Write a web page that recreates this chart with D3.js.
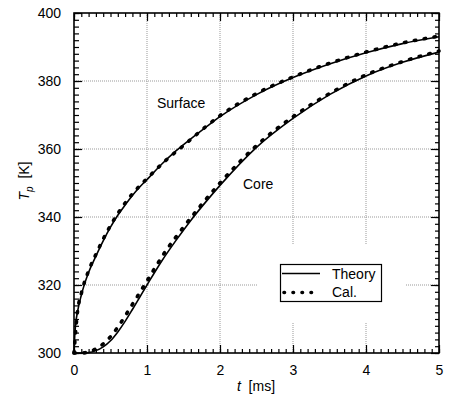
<!DOCTYPE html>
<html>
<head>
<meta charset="utf-8">
<script src="https://cdn.jsdelivr.net/npm/d3@7"></script>
<style>
  body { margin: 0; background: #fff; }
  svg text { font-family: "Liberation Sans", Arial, sans-serif; }
</style>
</head>
<body>
<div id="chart"></div>
<script>
// theory curves (time in ms, temperature in K)
const tTheory = [0, 0.01, 0.02, 0.05, 0.1, 0.15, 0.2, 0.3, 0.4, 0.5, 0.6, 0.7, 0.8, 0.9, 1.0, 1.2, 1.4, 1.6, 1.8, 2.0, 2.5, 3.0, 3.5, 4.0, 4.5, 5.0];
const surfaceTheory = [300, 305, 308, 312.3, 317, 320.7, 323.7, 328.5, 333, 337, 340.5, 343.5, 346.3, 348.8, 351, 355.5, 359.5, 363, 366.3, 369.5, 376, 381, 385, 388.3, 391, 393];
const coreTheory = [300, 300, 300, 300, 300, 300, 300.1, 300.7, 301.8, 303.6, 306.2, 309.3, 312.8, 316.4, 320, 327, 333.2, 339, 344.3, 349.3, 360.5, 369, 376, 381.5, 385.5, 388.5];

// calculated results
const tCal = [0, 0.05, 0.1, 0.2, 0.3, 0.4, 0.5, 0.6, 0.8, 1.0, 1.25, 1.5, 2.0, 2.5, 3.0, 3.5, 4.0, 4.5, 5.0];
const surfaceCal = [300, 312.5, 317.5, 324.2, 329, 333.5, 337.5, 341, 346.8, 351.3, 356.5, 361, 369.8, 376.3, 381.2, 385.2, 388.5, 391.2, 393.2];
const coreCal = [300, 300, 300, 300.3, 301.2, 302.7, 304.8, 307.6, 314.3, 321.2, 329.8, 337, 350, 361, 369.5, 376.3, 381.8, 385.7, 388.8];

const xTicks = [0, 1, 2, 3, 4, 5];
const yTicks = [300, 320, 340, 360, 380, 400];

const width = 450, height = 399;
const pLeft = 74, pRight = 439, pTop = 13, pBottom = 353;

const svg = d3.select("#chart").append("svg")
    .attr("width", width).attr("height", height);

const x = d3.scaleLinear().domain([0, 5]).range([pLeft, pRight]);
const y = d3.scaleLinear().domain([300, 400]).range([pBottom, pTop]);

// grid
svg.append("g").selectAll("line")
    .data(xTicks.slice(1, -1))
    .join("line")
    .attr("x1", d => x(d)).attr("x2", d => x(d))
    .attr("y1", pTop).attr("y2", pBottom)
    .attr("stroke", "#999").attr("stroke-dasharray", "1,1");

svg.append("g").selectAll("line")
    .data(yTicks.slice(1, -1))
    .join("line")
    .attr("x1", pLeft).attr("x2", pRight)
    .attr("y1", d => y(d)).attr("y2", d => y(d))
    .attr("stroke", "#999").attr("stroke-dasharray", "1,1");

// curves
const toPts = (ts, vs) => ts.map((t, i) => [t, vs[i]]);
const line = d3.line().x(d => x(d[0])).y(d => y(d[1])).curve(d3.curveMonotoneX);

[surfaceTheory, coreTheory].forEach(vs => {
  svg.append("path")
      .attr("d", line(toPts(tTheory, vs)))
      .attr("fill", "none").attr("stroke", "#000").attr("stroke-width", 1.6);
});

[surfaceCal, coreCal].forEach(vs => {
  svg.append("path")
      .attr("d", line(toPts(tCal, vs)))
      .attr("fill", "none").attr("stroke", "#000").attr("stroke-width", 3.6)
      .attr("stroke-linecap", "round").attr("stroke-dasharray", "1.5,8.5");
});

// frame + axes with inward ticks
const minorX = d3.range(0, 5.001, 0.1);
const minorY = d3.range(300, 400.001, 2);

const axB = d3.axisBottom(x).tickValues(xTicks).tickFormat(d3.format("d")).tickSizeInner(-8).tickSizeOuter(0).tickPadding(12);
const axT = d3.axisTop(x).tickValues(xTicks).tickFormat("").tickSizeInner(-8).tickSizeOuter(0);
const axL = d3.axisLeft(y).tickValues(yTicks).tickFormat(d3.format("d")).tickSizeInner(-8).tickSizeOuter(0).tickPadding(13);
const axR = d3.axisRight(y).tickValues(yTicks).tickFormat("").tickSizeInner(-8).tickSizeOuter(0);

const mB = d3.axisBottom(x).tickValues(minorX).tickFormat("").tickSizeInner(-4).tickSizeOuter(0);
const mT = d3.axisTop(x).tickValues(minorX).tickFormat("").tickSizeInner(-4).tickSizeOuter(0);
const mL = d3.axisLeft(y).tickValues(minorY).tickFormat("").tickSizeInner(-5).tickSizeOuter(0);
const mR = d3.axisRight(y).tickValues(minorY).tickFormat("").tickSizeInner(-4).tickSizeOuter(0);

function addAxis(ax, tr) {
  const g = svg.append("g").attr("transform", tr).call(ax);
  g.select(".domain").remove();
  g.selectAll(".tick line").attr("stroke", "#000").attr("stroke-width", 1.2);
  g.selectAll("text").attr("font-size", 14).attr("fill", "#000")
      .attr("font-family", "'Liberation Sans', Arial, sans-serif");
  return g;
}
addAxis(mB, `translate(0,${pBottom})`);
addAxis(mT, `translate(0,${pTop})`);
addAxis(mL, `translate(${pLeft},0)`);
addAxis(mR, `translate(${pRight},0)`);
addAxis(axB, `translate(0,${pBottom})`);
addAxis(axT, `translate(0,${pTop})`);
addAxis(axL, `translate(${pLeft},0)`).selectAll("text").attr("dy", "0.35em");
addAxis(axR, `translate(${pRight},0)`);

svg.append("rect")
    .attr("x", pLeft).attr("y", pTop)
    .attr("width", pRight - pLeft).attr("height", pBottom - pTop)
    .attr("fill", "none").attr("stroke", "#000").attr("stroke-width", 1.6);

// curve labels
svg.append("text").attr("x", 157).attr("y", 107.5).attr("font-size", 14).text("Surface");
svg.append("text").attr("x", 243).attr("y", 189).attr("font-size", 14).text("Core");

// legend
svg.append("rect").attr("x", 258).attr("y", 244).attr("width", 148).attr("height", 78).attr("fill", "#fff");
svg.append("rect").attr("x", 280.5).attr("y", 264.5).attr("width", 101).attr("height", 37)
    .attr("fill", "#fff").attr("stroke", "#000").attr("stroke-width", 1.2);
svg.append("line").attr("x1", 282).attr("x2", 320).attr("y1", 273.5).attr("y2", 273.5)
    .attr("stroke", "#000").attr("stroke-width", 1.6);
svg.append("line").attr("x1", 284).attr("x2", 320).attr("y1", 292.5).attr("y2", 292.5)
    .attr("stroke", "#000").attr("stroke-width", 3.6)
    .attr("stroke-linecap", "round").attr("stroke-dasharray", "0.5,8.5");
svg.append("text").attr("x", 332).attr("y", 279).attr("font-size", 14).text("Theory");
svg.append("text").attr("x", 332).attr("y", 297).attr("font-size", 14).text("Cal.");

// axis titles
const xt = svg.append("text").attr("x", 256).attr("y", 391).attr("font-size", 14).attr("text-anchor", "middle");
xt.append("tspan").attr("font-style", "italic").text("t");
xt.append("tspan").text("\u00a0 [ms]");

const yt = svg.append("text").attr("transform", "translate(29,181) rotate(-90)")
    .attr("font-size", 14).attr("text-anchor", "middle");
yt.append("tspan").attr("font-style", "italic").text("T");
yt.append("tspan").attr("font-style", "italic").attr("font-size", 10).attr("dy", 4).text("p");
yt.append("tspan").attr("dy", -4).text("\u00a0 [K]");
</script>
</body>
</html>
